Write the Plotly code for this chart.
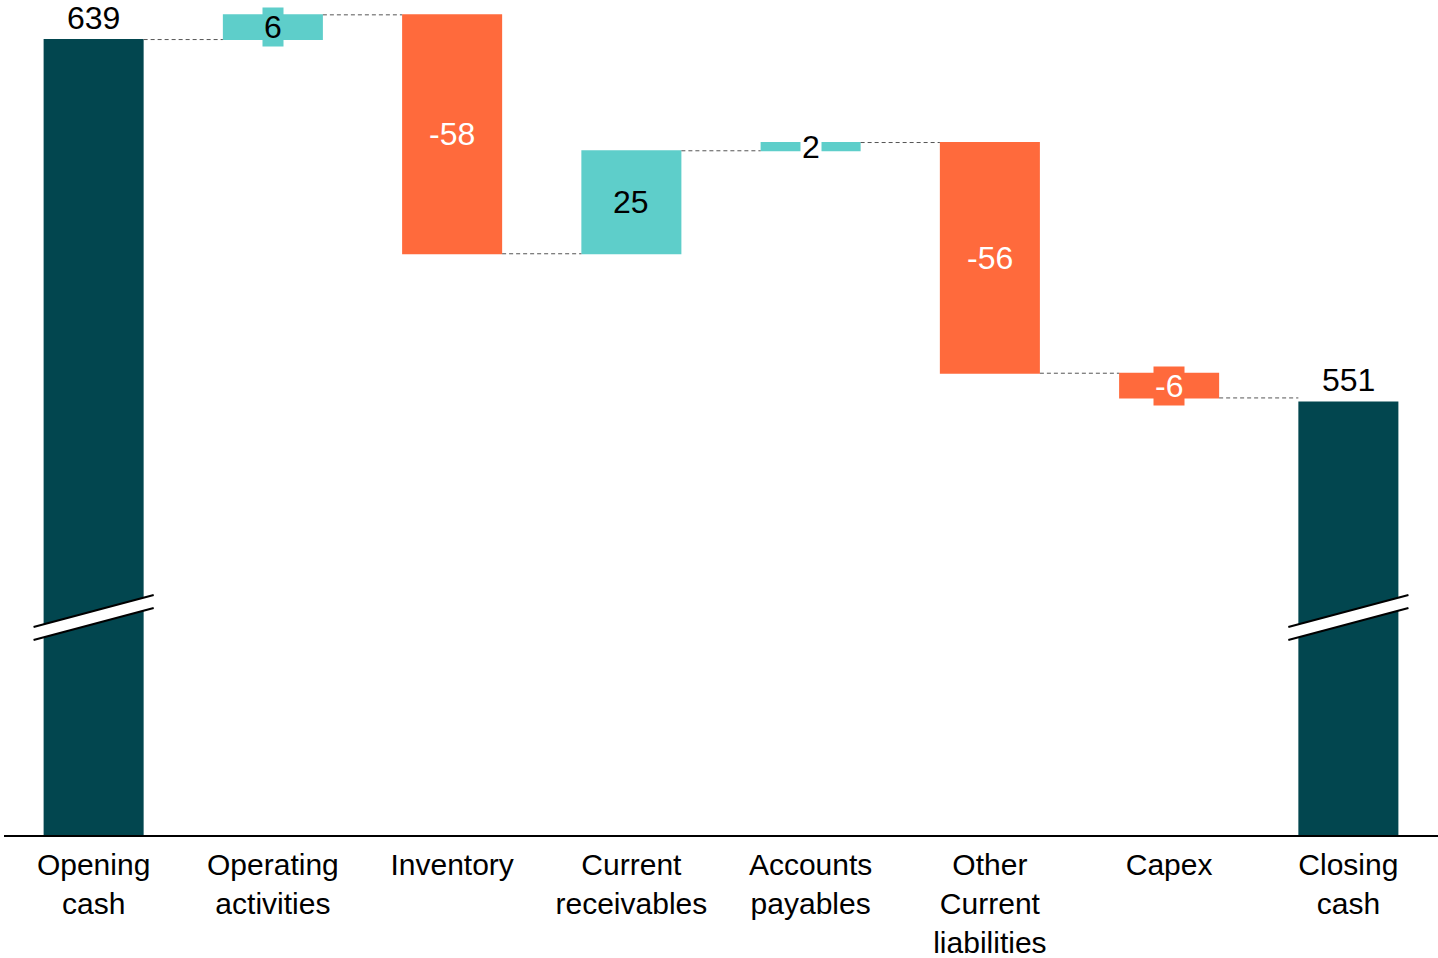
import plotly.graph_objects as go

# ---- data ----
categories = ["Opening<br>cash", "Operating<br>activities", "Inventory", "Current<br>receivables",
              "Accounts<br>payables", "Other<br>Current<br>liabilities", "Capex", "Closing<br>cash"]
values = [639, 6, -58, 25, 2, -56, -6, 551]
measures = ["absolute", "relative", "relative", "relative", "relative", "relative", "relative", "absolute"]
value_labels = ["639", "6", "-58", "25", "2", "-56", "-6", "551"]

# ---- style ----
DARK = "#02464F"
CYAN = "#5ECECA"
ORANGE = "#FF6A3C"
FONT = "Liberation Sans, Arial, sans-serif"
FS = 32
TICK_FS = 30
AXIS_MIN, AXIS_MAX = 445.9, 648.6
BREAK_AT = 498.7
BAR_W = 0.558

n = len(categories)
xs = list(range(n))

fig = go.Figure()
fig.add_trace(go.Waterfall(
    x=xs, y=values, measure=measures,
    width=BAR_W,
    increasing=dict(marker=dict(color=CYAN)),
    decreasing=dict(marker=dict(color=ORANGE)),
    totals=dict(marker=dict(color=DARK)),
    connector=dict(mode="between", line=dict(color="#555555", width=1, dash="4px,3px")),
    textinfo="none", hoverinfo="skip",
))

# compute bar extents from data
levels = []
running = 0
for v, m in zip(values, measures):
    if m == "absolute":
        running = v
        levels.append((None, v))
    else:
        start = running
        running += v
        levels.append((start, running))

annotations = []
for i, ((s, e), v, lab) in enumerate(zip(levels, values, value_labels)):
    if s is None:
        annotations.append(dict(x=i, y=e, text=lab, showarrow=False, yanchor="bottom", yshift=3,
                                 borderpad=0,
                                 font=dict(family=FONT, size=FS, color="black")))
    else:
        mid = (s + e) / 2
        color = "black" if v > 0 else "white"
        bar_color = CYAN if v > 0 else ORANGE
        bg = None
        if abs(v) <= 2:
            bg = "white"
        elif abs(v) < 10:
            bg = bar_color
        ann = dict(x=i, y=mid, text=lab, showarrow=False, yanchor="middle",
                   font=dict(family=FONT, size=FS, color=color), borderpad=1)
        if bg:
            ann["bgcolor"] = bg
        annotations.append(ann)

# axis break marks on the absolute bars
shapes = []
half_x = 0.335
rise = 3.88
gap = 3.15
for i, m in enumerate(measures):
    if m != "absolute":
        continue
    up_c = BREAK_AT + gap / 2
    lo_c = BREAK_AT - gap / 2
    x0, x1 = i - half_x, i + half_x
    path = (f"M {x0},{up_c - rise} L {x1},{up_c + rise} L {x1},{lo_c + rise} "
            f"L {x0},{lo_c - rise} Z")
    shapes.append(dict(type="path", xref="x", yref="y", path=path,
                       fillcolor="white", line=dict(width=0)))
    for c in (up_c, lo_c):
        shapes.append(dict(type="line", xref="x", yref="y", x0=x0, y0=c - rise, x1=x1, y1=c + rise,
                           line=dict(color="black", width=2)))

fig.update_layout(
    width=1438, height=958,
    margin=dict(l=4, r=0, t=0, b=123),
    plot_bgcolor="white", paper_bgcolor="white",
    showlegend=False,
    font=dict(family=FONT, size=FS, color="black"),
    annotations=annotations,
    shapes=shapes,
    xaxis=dict(range=[-0.5, n - 0.5], tickvals=xs, ticktext=categories, automargin=False,
               showline=True, linecolor="black", linewidth=2, showgrid=False, zeroline=False,
               ticks="", ticklabelstandoff=2,
               tickfont=dict(family=FONT, size=TICK_FS, color="black")),
    yaxis=dict(range=[AXIS_MIN, AXIS_MAX], visible=False, showgrid=False, zeroline=False,
               automargin=False),
)

fig.write_html("out.html")
